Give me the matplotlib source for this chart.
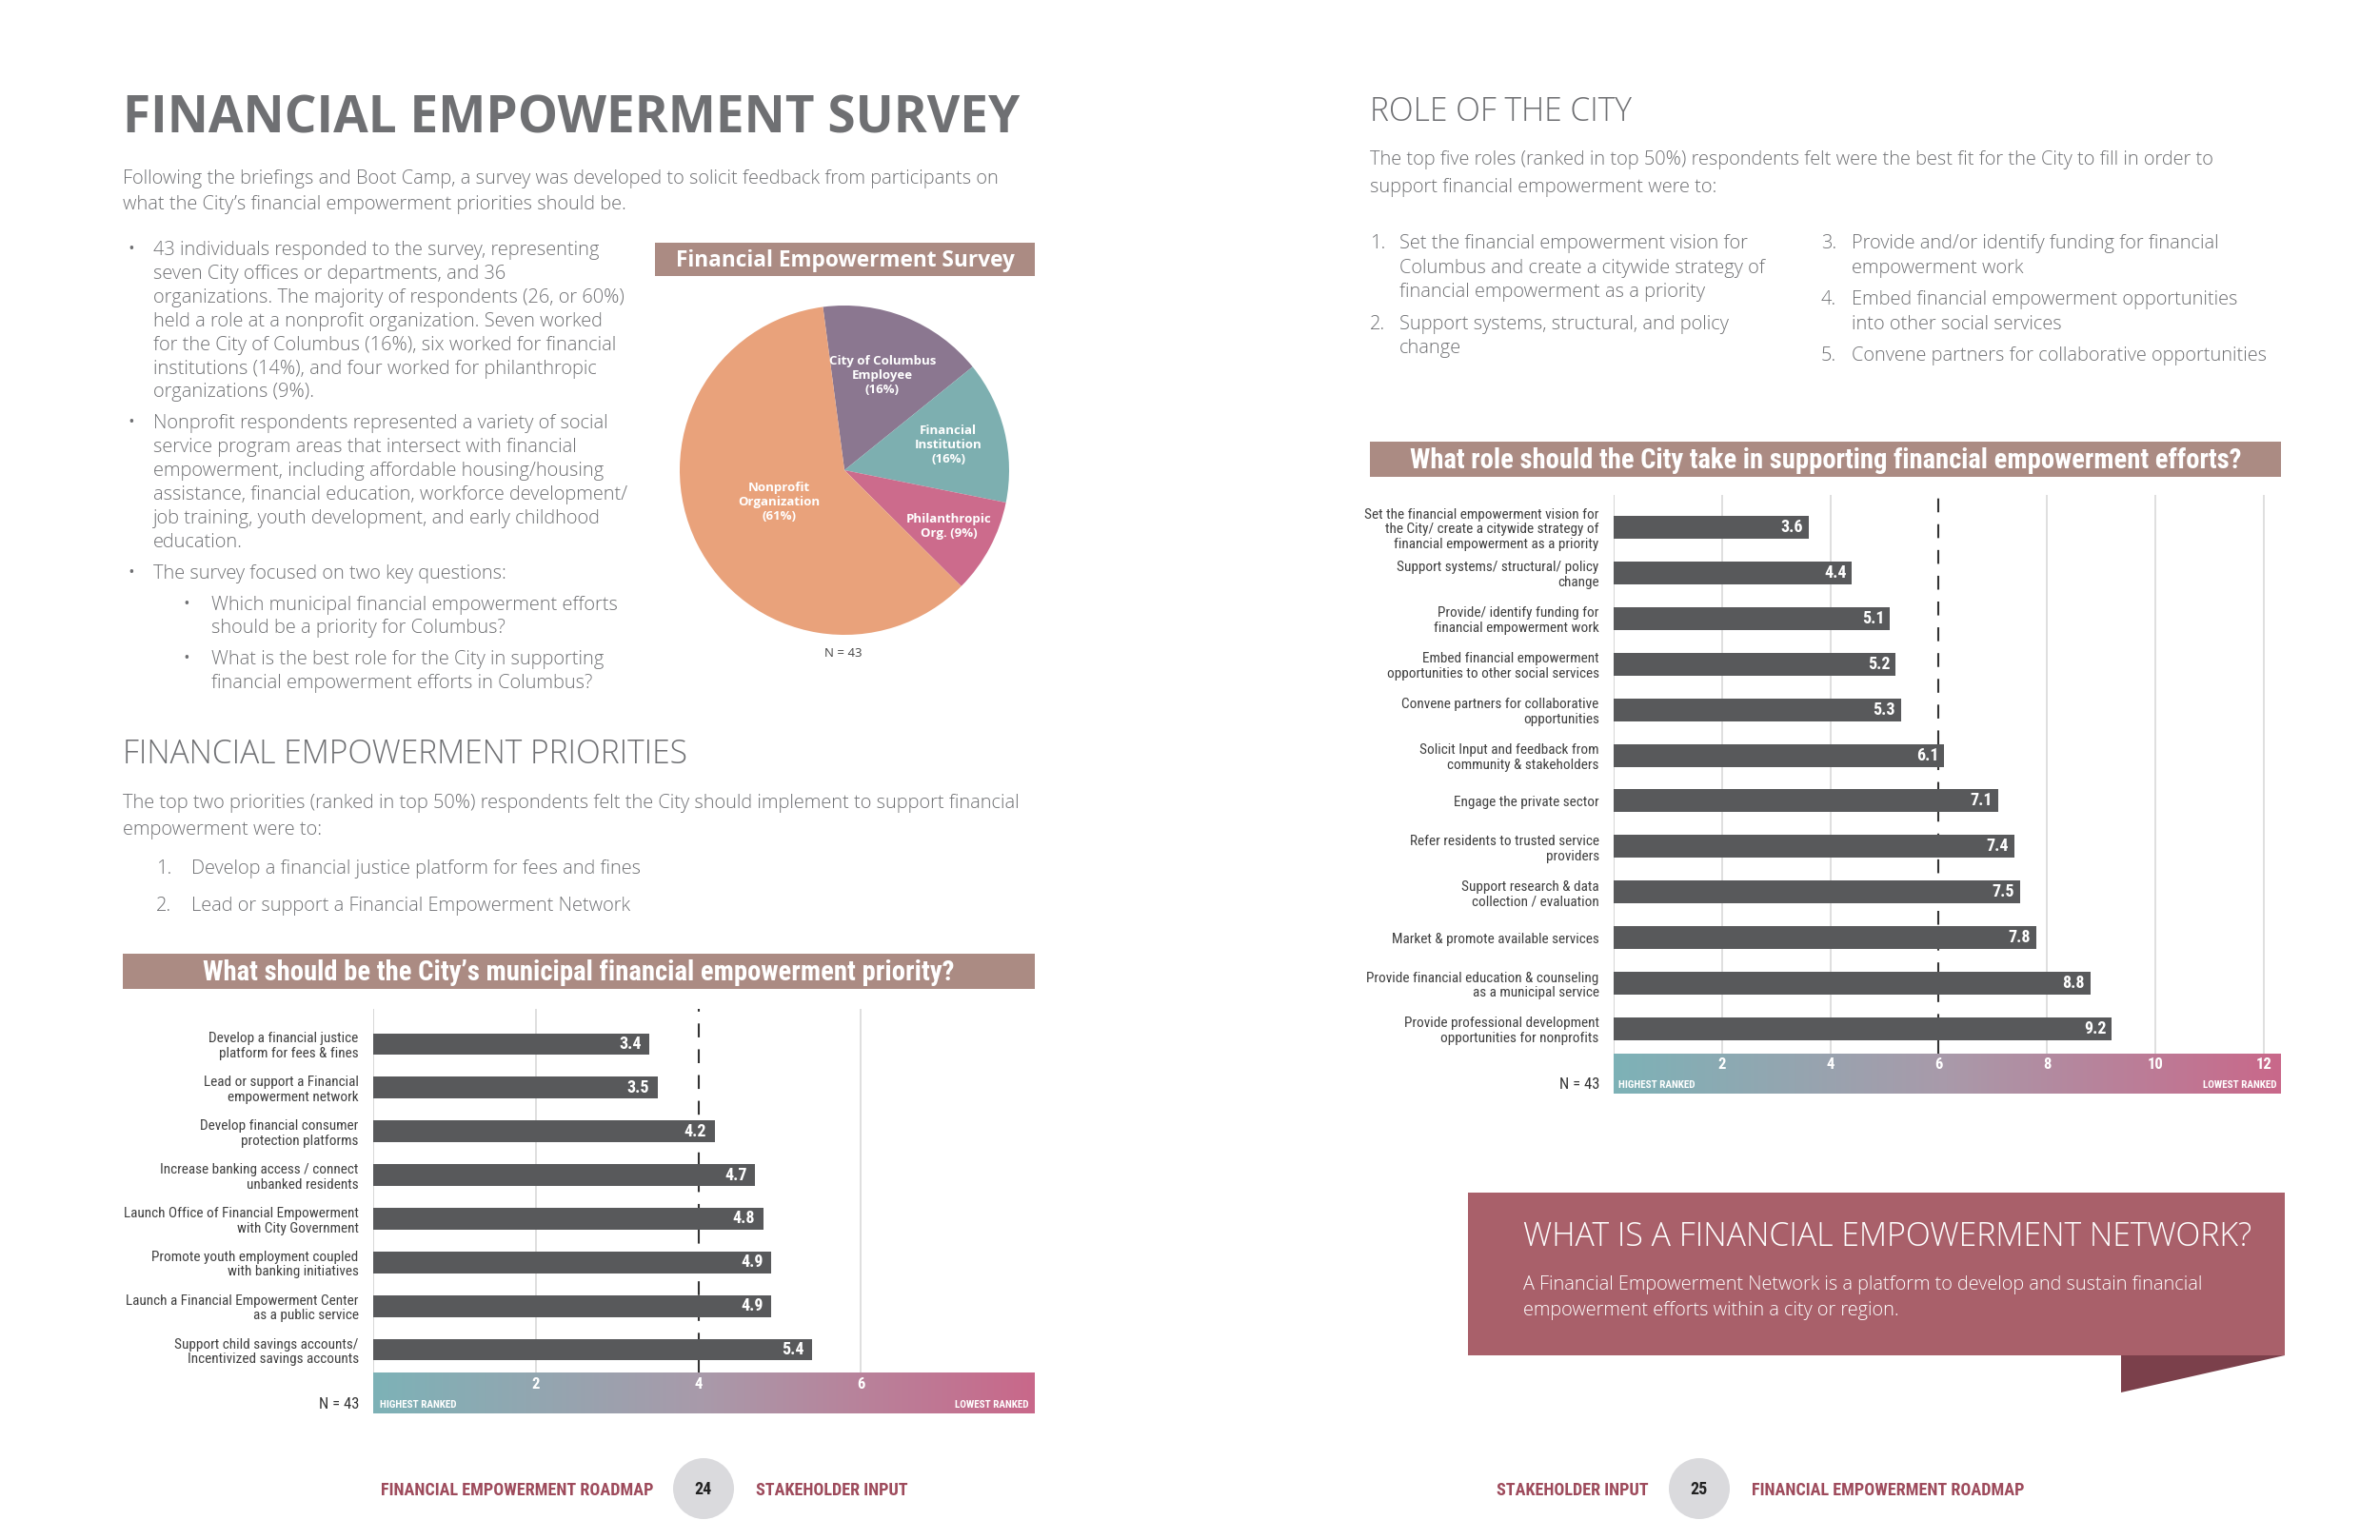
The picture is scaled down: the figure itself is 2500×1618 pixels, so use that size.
import numpy as np
import matplotlib
matplotlib.use("Agg")
import matplotlib.pyplot as plt
from matplotlib import font_manager as fm
from matplotlib.colors import LinearSegmentedColormap
from matplotlib.patches import Rectangle, Circle, Polygon

W, H = 2500, 1618

# ---- data ----
pie_labels = ["City of Columbus\nEmployee\n(16%)", "Financial\nInstitution\n(16%)",
              "Philanthropic\nOrg. (9%)", "Nonprofit\nOrganization\n(61%)"]
pie_counts = [7, 6, 4, 26]
pie_colors = ["#8B7790", "#7DAFB0", "#CC6B8C", "#E9A27B"]

priority_labels = [
    "Develop a financial justice\nplatform for fees & fines",
    "Lead or support a Financial\nempowerment network",
    "Develop financial consumer\nprotection platforms",
    "Increase banking access / connect\nunbanked residents",
    "Launch Office of Financial Empowerment\nwith City Government",
    "Promote youth employment coupled\nwith banking initiatives",
    "Launch a Financial Empowerment Center\nas a public service",
    "Support child savings accounts/\nIncentivized savings accounts",
]
priority_scores = [3.4, 3.5, 4.2, 4.7, 4.8, 4.9, 4.9, 5.4]
priority_ticks = [2, 4, 6]

role_labels = [
    "Set the financial empowerment vision for\nthe City/ create a citywide strategy of\nfinancial empowerment as a priority",
    "Support systems/ structural/ policy\nchange",
    "Provide/ identify funding for\nfinancial empowerment work",
    "Embed financial empowerment\nopportunities to other social services",
    "Convene partners for collaborative\nopportunities",
    "Solicit Input and feedback from\ncommunity & stakeholders",
    "Engage the private sector",
    "Refer residents to trusted service\nproviders",
    "Support research & data\ncollection / evaluation",
    "Market & promote available services",
    "Provide financial education & counseling\nas a municipal service",
    "Provide professional development\nopportunities for nonprofits",
]
role_scores = [3.6, 4.4, 5.1, 5.2, 5.3, 6.1, 7.1, 7.4, 7.5, 7.8, 8.8, 9.2]
role_ticks = [2, 4, 6, 8, 10, 12]

intro_lines = [
    "Following the briefings and Boot Camp, a survey was developed to solicit feedback from participants on",
    "what the City\u2019s financial empowerment priorities should be.",
]
bullets = [
    ["43 individuals responded to the survey, representing",
     "seven City offices or departments, and 36",
     "organizations. The majority of respondents (26, or 60%)",
     "held a role at a nonprofit organization. Seven worked",
     "for the City of Columbus (16%), six worked for financial",
     "institutions (14%), and four worked for philanthropic",
     "organizations (9%)."],
    ["Nonprofit respondents represented a variety of social",
     "service program areas that intersect with financial",
     "empowerment, including affordable housing/housing",
     "assistance, financial education, workforce development/",
     "job training, youth development, and early childhood",
     "education."],
    ["The survey focused on two key questions:"],
]
sub_bullets = [
    ["Which municipal financial empowerment efforts",
     "should be a priority for Columbus?"],
    ["What is the best role for the City in supporting",
     "financial empowerment efforts in Columbus?"],
]
priority_intro = [
    "The top two priorities (ranked in top 50%) respondents felt the City should implement to support financial",
    "empowerment were to:",
]
priority_list = ["Develop a financial justice platform for fees and fines",
                 "Lead or support a Financial Empowerment Network"]
role_intro = [
    "The top five roles (ranked in top 50%) respondents felt were the best fit for the City to fill in order to",
    "support financial empowerment were to:",
]
role_list_left = [("1.", ["Set the financial empowerment vision for",
                          "Columbus and create a citywide strategy of",
                          "financial empowerment as a priority"]),
                  ("2.", ["Support systems, structural, and policy", "change"])]
role_list_right = [("3.", ["Provide and/or identify funding for financial", "empowerment work"]),
                   ("4.", ["Embed financial empowerment opportunities", "into other social services"]),
                   ("5.", ["Convene partners for collaborative opportunities"])]

# ---- fonts ----
_fonts = fm.fontManager.ttflist
_names = {f.name for f in _fonts}
NARROW = dict(family=["DejaVu Sans"])
for cand in ["Liberation Sans Narrow", "Roboto Condensed", "Open Sans Condensed",
             "Noto Sans Condensed", "DejaVu Sans Condensed", "Arial Narrow"]:
    if cand in _names:
        NARROW = dict(family=[cand, "DejaVu Sans"])
        break
else:
    for f in _fonts:
        if "condensed" in str(f.stretch) and f.name in ("DejaVu Sans", "Noto Sans", "Roboto", "Open Sans"):
            NARROW = dict(family=[f.name, "DejaVu Sans"], fontstretch="condensed")
            break

GREY = "#6F7073"
HEAD = "#AB8B83"
BAR = "#58595B"
BODY = ["Open Sans", "DejaVu Sans"]
band_cmap = LinearSegmentedColormap.from_list("band", ["#7DB2B7", "#A99AAA", "#C9688A"])

fig = plt.figure(figsize=(25, 16.18), dpi=100)
fig.patch.set_facecolor("white")
renderer = fig.canvas.get_renderer()


def box(x0, y0, x1, y1):
    return fig.add_axes([x0 / W, 1 - y1 / H, (x1 - x0) / W, (y1 - y0) / H])


bg = box(0, 0, W, H)
bg.set_xlim(0, W)
bg.set_ylim(H, 0)
bg.axis("off")


def size_for(s, width, **kw):
    t = bg.text(0, 0, s, fontsize=20, **kw)
    w = t.get_window_extent(renderer).width
    t.remove()
    return 20 * width / w


def body(x, y, s, size, **kw):
    kw.setdefault("color", GREY)
    kw.setdefault("family", BODY)
    kw.setdefault("fontweight", "light")
    bg.text(x, y, s, fontsize=size, va="center", **kw)


def header(x0, y0, x1, y1, s, width, **kw):
    bg.add_patch(Rectangle((x0, y0), x1 - x0, y1 - y0, color=HEAD, lw=0))
    size = size_for(s, width, fontweight="bold", **kw)
    bg.text((x0 + x1) / 2, (y0 + y1) / 2 + 1, s, color="white", fontsize=size,
            fontweight="bold", ha="center", va="center", **kw)


# ---- left page text ----
ts = size_for("FINANCIAL EMPOWERMENT SURVEY", 942, fontweight="bold", family=BODY)
bg.text(129, 125, "FINANCIAL EMPOWERMENT SURVEY", fontsize=ts, fontweight="bold",
        color=GREY, family=BODY, va="center")

bs = size_for(intro_lines[0], 923, family=BODY, fontweight="light")
for i, line in enumerate(intro_lines):
    body(129, 188 + i * 27, line, bs)

y = 263
for lines in bullets:
    body(133, y, "\u2022", bs * 1.15)
    for line in lines:
        body(161, y, line, bs)
        y += 24.9
    y += 8
for lines in sub_bullets:
    body(191, y, "\u2022", bs * 1.15)
    for line in lines:
        body(222, y, line, bs)
        y += 24.9
    y += 8

hs = size_for("FINANCIAL EMPOWERMENT PRIORITIES", 593, family=BODY, fontweight="light")
body(129, 793, "FINANCIAL EMPOWERMENT PRIORITIES", hs)
for i, line in enumerate(priority_intro):
    body(129, 844 + i * 28, line, bs)
for i, line in enumerate(priority_list):
    body(164, 913 + i * 39, f"{i + 1}.", bs)
    body(201, 913 + i * 39, line, bs)

# ---- right page text ----
body(1439, 118, "ROLE OF THE CITY", hs)
for i, line in enumerate(role_intro):
    body(1439, 168 + i * 29, line, bs)
for col, (xn, xt) in ((role_list_left, (1439, 1470)), (role_list_right, (1913, 1945))):
    y = 256
    for num, lines in col:
        body(xn, y, num, bs)
        for line in lines:
            body(xt, y, line, bs)
            y += 25.5
        y += 8

# ---- pie ----
header(688, 255, 1087, 290, "Financial Empowerment Survey", 356, family=BODY)
pcx, pcy, pr = 887, 494, 173
pax = box(pcx - pr, pcy - pr, pcx + pr, pcy + pr)
wedges, _ = pax.pie(pie_counts, colors=pie_colors, startangle=97.5, counterclock=False,
                    radius=1, wedgeprops=dict(linewidth=0))
pax.set_xlim(-1, 1)
pax.set_ylim(-1, 1)
pax.set_aspect("equal")
pax.axis("off")
label_r = [0.62, 0.65, 0.72, 0.44]
for w, lab, r in zip(wedges, pie_labels, label_r):
    a = np.deg2rad((w.theta1 + w.theta2) / 2)
    pax.text(r * np.cos(a), r * np.sin(a), lab, ha="center", va="center", color="white",
             fontsize=9.5, fontweight="bold", family=BODY, linespacing=1.2)
body(886, 686, "N = 43", 9.5, ha="center", color="#444444", fontweight="normal")


# ---- bar charts ----
def bar_chart(labels, scores, ticks, dashed, x0, x1, top, bot, y_first, y_last, band_bot,
              xmax, label_fs):
    ax = box(x0, top, x1, bot)
    n = len(scores)
    step = (y_last - y_first) / (n - 1)
    ax.set_xlim(0, xmax)
    ax.set_ylim(n - 1 + (bot - y_last) / step, -(y_first - top) / step)
    pos = np.arange(n)
    ax.axvline(0, color="#CFCFCF", lw=1.2, zorder=1)
    for t in ticks:
        if t == dashed:
            ax.axvline(t, color="#333333", lw=1.5, ls=(0, (7, 6)), zorder=1)
        else:
            ax.axvline(t, color="#D9D9D9", lw=1.2, zorder=1)
    ax.barh(pos, scores, height=0.5, color=BAR, zorder=3)
    for p, s in zip(pos, scores):
        ax.text(s - 0.1, p, f"{s:.1f}", ha="right", va="center", color="white",
                fontsize=13, fontweight="bold", zorder=4, **NARROW)
    ax.set_yticks(pos)
    ax.set_yticklabels(labels, fontsize=label_fs, color="#404040", linespacing=1.15, **NARROW)
    ax.tick_params(axis="y", length=0, pad=11)
    ax.set_xticks([])
    for sp in ax.spines.values():
        sp.set_visible(False)

    band = box(x0, bot, x1, band_bot)
    band.imshow(np.linspace(0, 1, 256)[None, :], cmap=band_cmap, aspect="auto",
                extent=[0, xmax, 0, 1])
    band.set_xlim(0, xmax)
    band.set_ylim(0, 1)
    band.axis("off")
    for t in ticks:
        band.text(t, 0.72, str(t), ha="center", va="center", color="white",
                  fontsize=12, fontweight="bold", **NARROW)
    band.text(0.08, 0.22, "HIGHEST RANKED", ha="left", va="center", color="white",
              fontsize=8, fontweight="bold", **NARROW)
    band.text(xmax - 0.08, 0.22, "LOWEST RANKED", ha="right", va="center", color="white",
              fontsize=8, fontweight="bold", **NARROW)
    bg.text(x0 - 15, band_bot - 10, "N = 43", ha="right", va="center", color="#333333",
            fontsize=12, **NARROW)


lf = size_for("Launch Office of Financial Empowerment", 248, **NARROW)
header(129, 1002, 1087, 1039,
       "What should be the City\u2019s municipal financial empowerment priority?", 785, **NARROW)
bar_chart(priority_labels, priority_scores, priority_ticks, 4,
          392, 1087, 1060, 1442, 1097, 1418, 1485, 8.14, lf)

header(1439, 464, 2396, 501,
       "What role should the City take in supporting financial empowerment efforts?", 870, **NARROW)
bar_chart(role_labels, role_scores, role_ticks, 6,
          1695, 2396, 520, 1107, 554, 1081, 1149, 12.32, lf)

# ---- network box ----
bg.add_patch(Polygon([(2228, 1424), (2400, 1424), (2228, 1463)], closed=True,
                     color="#7B404B", lw=0))
bg.add_patch(Rectangle((1542, 1253), 858, 171, color="#A9606A", lw=0))
ns = size_for("WHAT IS A FINANCIAL EMPOWERMENT NETWORK?", 764, family=BODY, fontweight="light")
body(1600, 1300, "WHAT IS A FINANCIAL EMPOWERMENT NETWORK?", ns, color="white")
nb = size_for("A Financial Empowerment Network is a platform to develop and sustain financial",
              715, family=BODY, fontweight="light")
body(1600, 1350, "A Financial Empowerment Network is a platform to develop and sustain financial",
     nb, color="white")
body(1600, 1377, "empowerment efforts within a city or region.", nb, color="white")

# ---- footer ----
FOOT = "#9E4B5C"
fs = size_for("FINANCIAL EMPOWERMENT ROADMAP", 288, fontweight="bold", **NARROW)
for cx, num, left, right in ((739, "24", "FINANCIAL EMPOWERMENT ROADMAP", "STAKEHOLDER INPUT"),
                             (1785, "25", "STAKEHOLDER INPUT", "FINANCIAL EMPOWERMENT ROADMAP")):
    bg.add_patch(Circle((cx, 1564), 32, color="#DADADD", lw=0))
    bg.text(cx, 1565, num, ha="center", va="center", fontsize=13, fontweight="bold",
            color="#222222", **NARROW)
    bg.text(cx - 53, 1566, left, ha="right", va="center", fontsize=fs, fontweight="bold",
            color=FOOT, **NARROW)
    bg.text(cx + 55, 1566, right, ha="left", va="center", fontsize=fs, fontweight="bold",
            color=FOOT, **NARROW)

fig.savefig("out.png", dpi=100, facecolor="white")
